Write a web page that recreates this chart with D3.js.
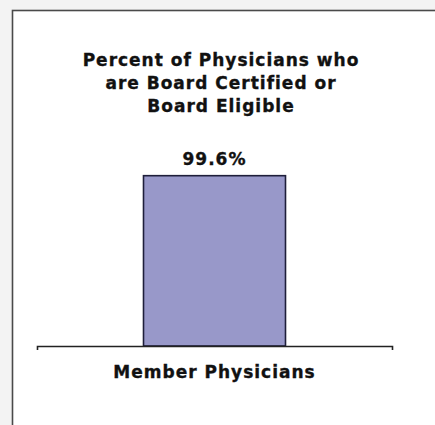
<!DOCTYPE html>
<html>
<head>
<meta charset="utf-8">
<script src="https://cdn.jsdelivr.net/npm/d3@7"></script>
<style>
  html, body { margin: 0; padding: 0; background: #f3f3f3; }
  svg { display: block; }
</style>
</head>
<body>
<div id="chart"></div>
<script>
// Board certification bar chart
const titleLines = ['Percent of Physicians who', 'are Board Certified or', 'Board Eligible'];
const categories = ['Member Physicians'];
const values = [99.6];
const yDomain = [0, 100];

const width = 435, height = 425;
const margin = { top: 175, right: 43, bottom: 79, left: 37 };
const innerWidth = width - margin.left - margin.right;
const innerHeight = height - margin.top - margin.bottom;

const svg = d3.select('#chart')
    .append('svg')
    .attr('width', width)
    .attr('height', height);

// Panel frame (runs off the right and bottom edges like the source image)
svg.append('rect')
    .attr('x', 12.5)
    .attr('y', 10.5)
    .attr('width', width)
    .attr('height', height)
    .attr('fill', '#fff')
    .attr('stroke', '#4a4a4a')
    .attr('stroke-width', 1.6);

const font = 'Verdana, "DejaVu Sans", sans-serif';
const fontSize = 17;
const spacing = 1.0;
const ink = '#111';

function boldText(sel) {
    sel.attr('font-family', font)
        .attr('font-weight', 'bold')
        .attr('font-size', fontSize)
        .attr('letter-spacing', spacing)
        .attr('fill', ink)
        .attr('stroke', ink)
        .attr('stroke-width', 0.35);
}

// Title
svg.append('text')
    .attr('x', 221)
    .attr('y', 66)
    .attr('text-anchor', 'middle')
    .call(boldText)
    .selectAll('tspan')
    .data(titleLines)
    .enter()
    .append('tspan')
    .attr('x', 221)
    .attr('dy', (d, i) => i === 0 ? 0 : 23)
    .text(d => d);

const g = svg.append('g')
    .attr('transform', `translate(${margin.left},${margin.top})`);

const x = d3.scaleBand()
    .domain(categories)
    .range([0, innerWidth])
    .paddingInner(0.6)
    .paddingOuter(0.3);

const y = d3.scaleLinear()
    .domain(yDomain)
    .range([innerHeight, 0]);

// Bars
g.selectAll('.bar')
    .data(values)
    .enter()
    .append('rect')
    .attr('class', 'bar')
    .attr('x', (d, i) => x(categories[i]))
    .attr('y', d => y(d))
    .attr('width', x.bandwidth())
    .attr('height', d => innerHeight - y(d))
    .attr('fill', '#9898c9')
    .attr('stroke', '#1e1e3a')
    .attr('stroke-width', 1.6);

// Value labels
g.selectAll('.value-label')
    .data(values)
    .enter()
    .append('text')
    .attr('x', (d, i) => x(categories[i]) + x.bandwidth() / 2)
    .attr('y', d => y(d) - 11)
    .attr('text-anchor', 'middle')
    .call(boldText)
    .text(d => d.toFixed(1) + '%');

// X axis
const xAxis = d3.axisBottom(x)
    .tickSize(0)
    .tickPadding(20)
    .tickSizeOuter(4);

const axisG = g.append('g')
    .attr('transform', `translate(0,${innerHeight})`)
    .call(xAxis);

axisG.select('.domain')
    .attr('stroke', '#222')
    .attr('stroke-width', 1.6);

axisG.selectAll('text')
    .call(boldText);
</script>
</body>
</html>
